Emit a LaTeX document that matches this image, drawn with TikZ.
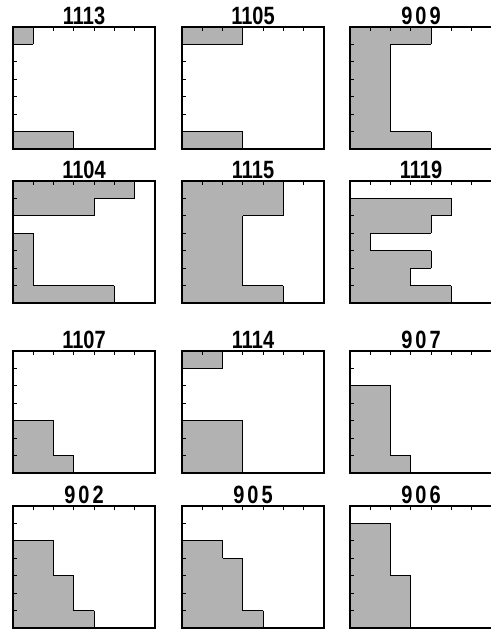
\documentclass[tikz,border=0pt]{standalone}
\usepackage{fontspec}
\newfontfamily\labelfont{Liberation Sans}
\newfontfamily\spacedlabelfont[LetterSpace=15]{Liberation Sans}
\tikzset{
  panelframe/.style={line width=2.4pt},
  tone/.style={fill=black!30},
  toneedge/.style={line width=1.2pt, line cap=square},
  tickmark/.style={line width=0.9pt},
  runlabel/.style={font=\labelfont\bfseries\fontsize{25}{25}\selectfont, xscale=0.8, anchor=base, inner sep=0pt}
}
\begin{document}
\begin{tikzpicture}[x=1pt,y=-1pt]
  \useasboundingbox (0,0) rectangle (490,629);
  \pgfmathsetmacro{\cellw}{142/7}
  \pgfmathsetmacro{\cellh}{122/7}

  % panels: left / top / label / shaded cells in each row, top to bottom
  \foreach \px/\py/\lab/\rows [count=\i] in {
      13/27/1113/{1,0,0,0,0,0,3},
      182/27/1105/{3,0,0,0,0,0,3},
      350/27/909/{4,2,2,2,2,2,4},
      13/181/1104/{6,4,0,1,1,1,5},
      182/181/1115/{5,5,3,3,3,3,5},
      350/181/1119/{0,5,4,1,4,3,5},
      13/351/1107/{0,0,0,0,2,2,3},
      182/351/1114/{2,0,0,0,3,3,3},
      350/351/907/{0,0,2,2,2,2,3},
      13/506/902/{0,0,2,2,3,3,4},
      182/506/905/{0,0,2,3,3,3,4},
      350/506/906/{0,2,2,2,3,3,3}} {
    \coordinate (p\i) at (\px,\py);

    % Shaded rows
    \foreach \w [count=\r] in \rows {
      \fill[tone] (\px,\py+\r*\cellh-\cellh) rectangle (\px+\w*\cellw,\py+\r*\cellh);
    }
    % Outline of the shaded area
    \foreach \w [count=\r, remember=\w as \wp (initially 0)] in \rows {
      \pgfmathsetmacro{\ya}{\py+(\r-1)*\cellh}
      \ifnum\w=\wp\else
        \draw[toneedge] (\px+\wp*\cellw,\ya) -- (\px+\w*\cellw,\ya);
      \fi
      \ifnum\w>0
        \draw[toneedge] (\px+\w*\cellw,\ya) -- ++(0,\cellh);
      \fi
    }

    % Ticks on the top and left edges
    \foreach \k in {1,...,6} {
      \draw[tickmark] (\px+\k*\cellw,\py) -- ++(0,3.5);
      \draw[tickmark] (\px,\py+\k*\cellh) -- ++(3.5,0);
    }

    \draw[panelframe] (p\i) rectangle ++(142,122);
    \node[runlabel] (lab\i) at ([shift={(71,-2.5)}]p\i)
      {\ifnum\lab<1000 \spacedlabelfont\bfseries\fi\lab};
  }
\end{tikzpicture}
\end{document}
